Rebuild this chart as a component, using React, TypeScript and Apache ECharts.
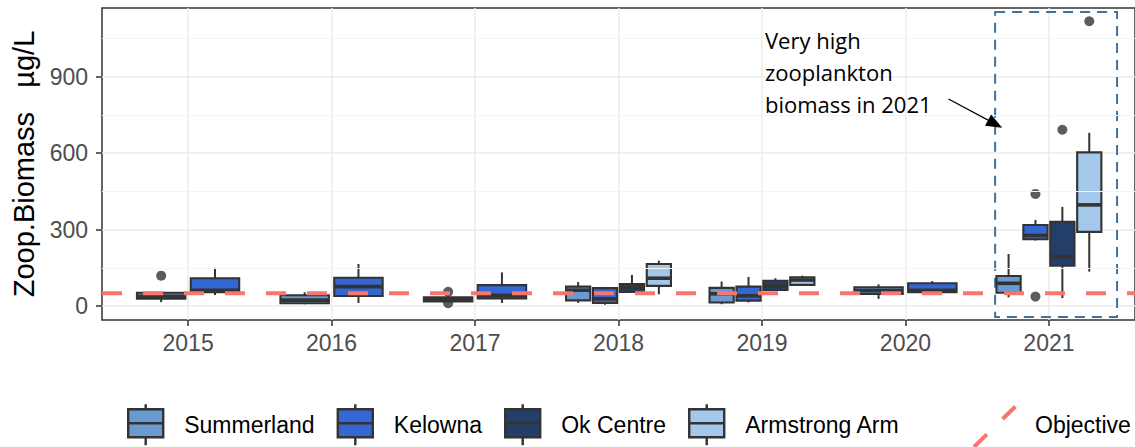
import React, { useEffect, useRef } from 'react';
import * as echarts from 'echarts';

// ---------- data ----------
const years = ['2015', '2016', '2017', '2018', '2019', '2020', '2021'];
const sites = ['Summerland', 'Kelowna', 'Ok Centre', 'Armstrong Arm'];
const siteColors = ['#6A9BD0', '#3467D3', '#243E6A', '#A4C8EC'];

// [lower whisker, Q1, median, Q3, upper whisker] per year (null = not sampled)
const summerlandBox = [
  [15, 29, 38, 52, 54],
  [7, 11, 23, 42, 54],
  [15, 18, 26, 34, 38],
  [12, 22, 62, 76, 94],
  [7, 14, 48, 71, 96],
  [28, 47, 60, 73, 85],
  [34, 52, 89, 118, 204],
];
const kelownaBox = [
  [43, 54, 62, 109, 150],
  [12, 39, 76, 111, 165],
  [12, 30, 42, 82, 132],
  [5, 12, 28, 70, 75],
  [14, 21, 40, 76, 114],
  [53, 54, 62, 89, 98],
  [257, 262, 277, 318, 338],
];
const okCentreBox = [
  null,
  null,
  null,
  [54, 55, 72, 86, 122],
  [60, 63, 79, 99, 109],
  null,
  [31, 158, 194, 331, 389],
];
const armstrongBox = [
  null,
  null,
  null,
  [46, 79, 109, 165, 178],
  [79, 83, 102, 113, 119],
  null,
  [135, 291, 397, 603, 680],
];
// outliers: [year index, value]
const summerlandOut = [[0, 119], [2, 56], [2, 11]];
const kelownaOut = [[6, 440], [6, 37]];
const okCentreOut = [[6, 692]];
const armstrongOut = [[6, 1118]];

const objectiveValue = 50;
const yTicks = [0, 300, 600, 900];
const yMinorTicks = [150, 450, 750, 1050];
const annotationText = 'Very high\nzooplankton\nbiomass in 2021';

const boxesBySite = [summerlandBox, kelownaBox, okCentreBox, armstrongBox];
const outBySite = [summerlandOut, kelownaOut, okCentreOut, armstrongOut];

// ---------- layout helpers ----------
const DODGE = 0.75;
const PAD = 0.1;
const X_MIN = -0.6;
const X_MAX = years.length - 1 + 0.6;
const FONT = '"Liberation Sans", Arial, Helvetica, sans-serif';
const DARK = '#333333';

const presentSites = (yi: number) =>
  boxesBySite.map((b, s) => (b[yi] ? s : -1)).filter((s) => s >= 0);

const slotCenter = (yi: number, si: number) => {
  const present = presentSites(yi);
  const n = present.length;
  const rank = present.indexOf(si);
  const slot = DODGE / n;
  return { cx: yi - DODGE / 2 + slot * (rank + 0.5), half: (slot * (1 - PAD)) / 2 };
};

const boxIcon = 'path://M17.5,0L17.5,5M0,5L35,5L35,33L0,33ZM0,19L35,19M17.5,33L17.5,41';

export default function App() {
  const ref = useRef<HTMLDivElement>(null);

  useEffect(() => {
    if (!ref.current) return;
    const chart = echarts.init(ref.current, null, { renderer: 'svg' });

    const boxSeries = sites.map((name, si) => ({
      type: 'custom',
      name,
      z: 3,
      itemStyle: { color: siteColors[si] },
      encode: { x: 0, y: [1, 2, 3, 4, 5] },
      data: boxesBySite[si]
        .map((b, yi) => (b ? [yi, ...b] : null))
        .filter((d) => d !== null),
      renderItem: (params: any, api: any) => {
        const yi = api.value(0);
        const { cx, half } = slotCenter(yi, si);
        const lo = api.value(1), q1 = api.value(2), med = api.value(3), q3 = api.value(4), hi = api.value(5);
        const pL = api.coord([cx - half, q3]);
        const pR = api.coord([cx + half, q1]);
        const pC = api.coord([cx, med]);
        const pLo = api.coord([cx, lo]);
        const pHi = api.coord([cx, hi]);
        const pQ1 = api.coord([cx, q1]);
        const pQ3 = api.coord([cx, q3]);
        const lw = 2.1;
        return {
          type: 'group',
          children: [
            { type: 'line', shape: { x1: pC[0], y1: pHi[1], x2: pC[0], y2: pQ3[1] }, style: { stroke: DARK, lineWidth: 2 } },
            { type: 'line', shape: { x1: pC[0], y1: pQ1[1], x2: pC[0], y2: pLo[1] }, style: { stroke: DARK, lineWidth: 2 } },
            {
              type: 'rect',
              shape: { x: pL[0], y: pL[1], width: pR[0] - pL[0], height: pR[1] - pL[1] },
              style: { fill: siteColors[si], stroke: DARK, lineWidth: lw },
            },
            { type: 'line', shape: { x1: pL[0], y1: pC[1], x2: pR[0], y2: pC[1] }, style: { stroke: DARK, lineWidth: 3.6 } },
          ],
        };
      },
    }));

    const outlierData: number[][] = [];
    outBySite.forEach((list, si) =>
      list.forEach(([yi, v]) => outlierData.push([slotCenter(yi, si).cx, v]))
    );

    const option: any = {
      animation: false,
      backgroundColor: '#ffffff',
      grid: {
        left: 102, right: 0, top: 8, bottom: 127,
        show: true, borderColor: DARK, borderWidth: 1.5, backgroundColor: 'transparent',
        outerBoundsMode: 'none',
      },
      xAxis: {
        type: 'value',
        min: X_MIN,
        max: X_MAX,
        axisLine: { show: false, onZero: false },
        axisTick: { show: true, length: 6, customValues: years.map((_, i) => i), lineStyle: { color: DARK, width: 1.5 } },
        axisLabel: {
          customValues: years.map((_, i) => i),
          formatter: (v: number) => years[Math.round(v)] ?? '',
          fontSize: 23, color: '#4D4D4D', fontFamily: FONT, margin: 11,
        },
        splitLine: { show: true, lineStyle: { color: '#EBEBEB', width: 1.5 } },
      },
      yAxis: {
        type: 'value',
        min: -55,
        max: 1170,
        name: 'Zoop.Biomass   µg/L',
        nameLocation: 'middle',
        nameRotate: 90,
        nameGap: 60,
        nameTextStyle: { fontSize: 29, color: '#000', fontFamily: FONT },
        axisLine: { show: false, onZero: false },
        axisTick: { show: true, length: 6, customValues: yTicks, lineStyle: { color: DARK, width: 1.5 } },
        axisLabel: {
          customValues: yTicks,
          fontSize: 23, color: '#4D4D4D', fontFamily: FONT, margin: 14,
        },
        splitLine: { show: true, lineStyle: { color: '#EBEBEB', width: 1.5 } },
      },
      legend: [
        {
          data: sites.map((name) => ({ name, icon: boxIcon })),
          left: 127, top: 403, orient: 'horizontal', padding: 0,
          itemWidth: 35, itemHeight: 41, itemGap: 22,
          selectedMode: false,
          symbolKeepAspect: false,
          itemStyle: { borderColor: DARK, borderWidth: 2.4 },
          textStyle: { fontSize: 23, color: '#000', fontFamily: FONT, padding: [0, 0, 0, 16] },
        },
        {
          data: [{ name: 'Objective', icon: 'path://M0,44L45,0' }],
          left: 972, top: 401, padding: 0,
          itemWidth: 45, itemHeight: 44,
          selectedMode: false,
          symbolKeepAspect: false,
          itemStyle: { color: 'transparent', borderColor: '#F8766D', borderWidth: 4, borderType: [18, 22] },
          textStyle: { fontSize: 23, color: '#000', fontFamily: FONT, padding: [0, 0, 0, 11] },
        },
      ],
      series: [
        {
          type: 'line',
          name: 'minorGrid',
          data: [],
          z: 1,
          silent: true,
          markLine: {
            silent: true,
            symbol: ['none', 'none'],
            label: { show: false },
            lineStyle: { color: '#F4F4F4', width: 1.2, type: 'solid' },
            data: yMinorTicks.map((v) => ({ yAxis: v })),
          },
        },
        ...boxSeries,
        {
          type: 'scatter',
          name: 'outliers',
          z: 4,
          symbolSize: 10,
          itemStyle: { color: DARK },
          data: outlierData,
        },
        {
          type: 'line',
          name: 'Objective',
          z: 5,
          symbol: 'none',
          showSymbol: false,
          data: [[X_MIN, objectiveValue], [X_MAX, objectiveValue]],
          lineStyle: { color: '#F8766D', width: 4, type: [20, 21] },
          itemStyle: { color: '#F8766D' },
        },
        {
          type: 'line',
          name: 'annotation',
          z: 6,
          data: [],
          silent: true,
          markArea: {
            silent: true,
            itemStyle: { color: 'rgba(0,0,0,0)', borderColor: '#41729F', borderWidth: 2, borderType: [10, 7] },
            data: [[{ xAxis: 5.625, yAxis: 1154 }, { xAxis: 6.475, yAxis: -43 }]],
          },
          markLine: {
            silent: true,
            symbol: ['none', 'triangle'],
            symbolSize: [13, 16],
            label: { show: false },
            lineStyle: { color: '#000', width: 1.2, type: 'solid' },
            data: [[{ coord: [5.3, 813] }, { coord: [5.625, 715] }]],
          },
        },
      ],
      graphic: [
        {
          type: 'text',
          left: 765,
          top: 24,
          z: 50,
          style: { text: annotationText, font: '22px "Open Sans", "Noto Sans", sans-serif', fill: '#000', lineHeight: 32 },
        },
      ],
    };

    chart.setOption(option);
    return () => chart.dispose();
  }, []);

  return <div ref={ref} style={{ position: 'absolute', left: 0, top: 0, width: 1135, height: 447 }} />;
}
